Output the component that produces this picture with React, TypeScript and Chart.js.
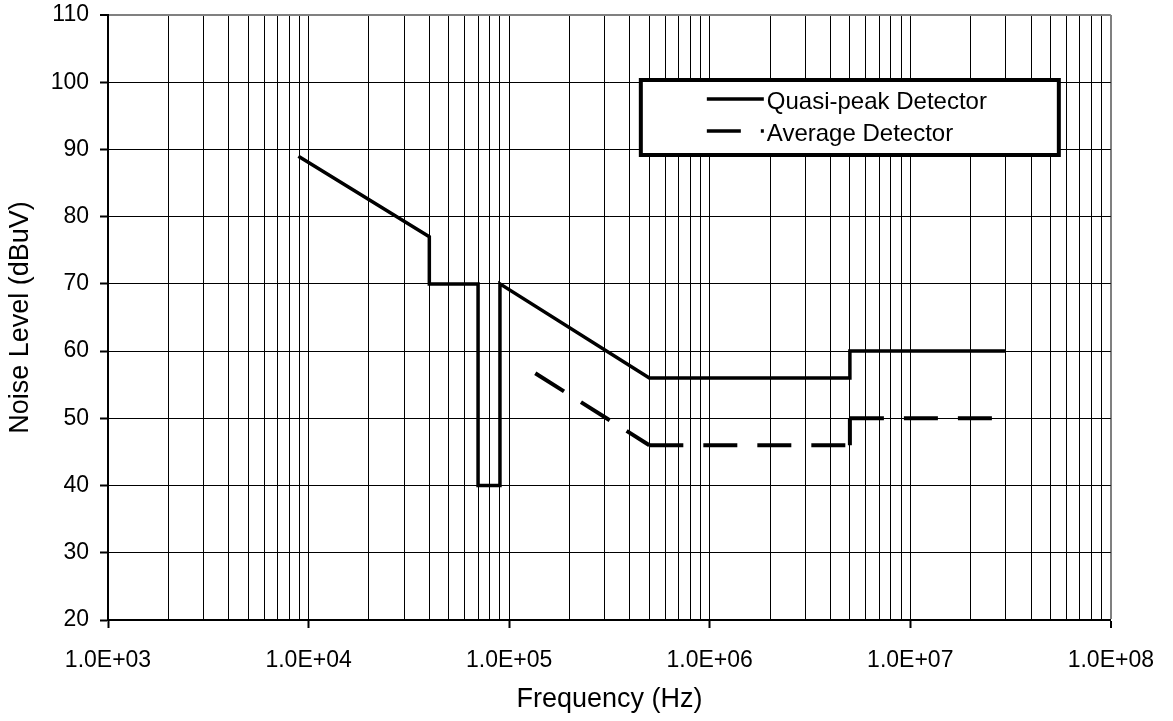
import React, { useEffect, useRef } from "react";
import { Chart, registerables } from "chart.js";

Chart.register(...registerables);

// ---- Data ----
const qpFreq = [8.9e3, 4e4, 4e4, 7e4, 7e4, 9e4, 9e4, 5e5, 5e6, 5e6, 3e7];
const qpLevel = [89, 77, 70, 70, 40, 40, 70, 56, 56, 60, 60];

const avgFreq = [1.35e5, 5e5, 5e6, 5e6, 3e7];
const avgLevel = [56.7, 46, 46, 50, 50];

const seriesLabels = ["Quasi-peak Detector", "Average Detector"];

// ---- Axis ticks ----
const xDecades = [1e3, 1e4, 1e5, 1e6, 1e7, 1e8];
const xTickLabels = ["1.0E+03", "1.0E+04", "1.0E+05", "1.0E+06", "1.0E+07", "1.0E+08"];
const xMinorMultipliers = [2, 3, 4, 5, 6, 7, 8, 9];
const yMin = 20;
const yMax = 110;
const yStep = 10;

const xLabel = "Frequency (Hz)";
const yLabel = "Noise Level (dBuV)";

const FONT = "'Liberation Sans', Arial, Helvetica, sans-serif";
const GRAY = "#808080";
const DASH = [34, 20];
const DASH_PERIOD = 54;

function buildXTicks() {
  const ticks: { value: number; major: boolean }[] = [];
  for (let i = 0; i < xDecades.length; i++) {
    ticks.push({ value: xDecades[i], major: true });
    if (i < xDecades.length - 1) {
      for (const m of xMinorMultipliers) {
        ticks.push({ value: xDecades[i] * m, major: false });
      }
    }
  }
  return ticks;
}

function isDecade(v: number) {
  return xDecades.some((d) => Math.abs(v / d - 1) < 1e-9);
}

const boxLegendPlugin = {
  id: "boxLegend",
  afterDatasetsDraw(chart: any) {
    const { ctx, chartArea } = chart;
    const boxW = 418;
    const boxH = 75;
    const left = chartArea.right - 52 - boxW;
    const top = chartArea.top + 65;
    ctx.save();
    ctx.fillStyle = "#ffffff";
    ctx.fillRect(left, top, boxW, boxH);
    ctx.lineWidth = 4;
    ctx.strokeStyle = "#000000";
    ctx.strokeRect(left, top, boxW, boxH);

    const rows = [
      { y: top + 20, ds: chart.data.datasets[0] },
      { y: top + 52, ds: chart.data.datasets[1] },
    ];
    ctx.font = `24px ${FONT}`;
    ctx.textBaseline = "middle";
    ctx.textAlign = "left";
    for (const r of rows) {
      ctx.save();
      ctx.beginPath();
      ctx.lineWidth = 3.5;
      ctx.strokeStyle = "#000";
      ctx.setLineDash(r.ds.borderDash || []);
      ctx.moveTo(left + 66, r.y - 1);
      ctx.lineTo(left + 123, r.y - 1);
      ctx.stroke();
      ctx.restore();
      ctx.fillStyle = "#000";
      ctx.fillText(r.ds.label, left + 126, r.y + 2);
    }
    ctx.restore();
  },
};

export default function App() {
  const canvasRef = useRef<HTMLCanvasElement | null>(null);

  useEffect(() => {
    const canvas = canvasRef.current;
    if (!canvas) return;
    const chart = new Chart(canvas, {
      type: "line",
      data: {
        datasets: [
          {
            label: seriesLabels[0],
            data: qpFreq.map((f, i) => ({ x: f, y: qpLevel[i] })),
            borderColor: "#000",
            borderWidth: 3.5,
            pointRadius: 0,
            tension: 0,
            fill: false,
          },
          {
            label: seriesLabels[1],
            data: avgFreq.map((f, i) => ({ x: f, y: avgLevel[i] })),
            borderColor: "#000",
            borderWidth: 4,
            borderDash: DASH,
            pointRadius: 0,
            tension: 0,
            fill: false,
            segment: {
              borderDashOffset: (c: any) => (c.p0DataIndex % 2 ? DASH_PERIOD : 0),
            },
          } as any,
        ],
      },
      options: {
        responsive: false,
        devicePixelRatio: 1,
        animation: false,
        layout: { padding: { top: 15, right: 61, left: 0, bottom: 0 } },
        plugins: {
          legend: { display: false },
          tooltip: { enabled: false },
        },
        scales: {
          x: {
            type: "logarithmic",
            min: xDecades[0],
            max: xDecades[xDecades.length - 1],
            afterBuildTicks: (scale: any) => {
              scale.ticks = buildXTicks();
            },
            afterFit: (scale: any) => {
              scale.height = 101;
            },
            ticks: {
              autoSkip: false,
              maxRotation: 0,
              minRotation: 0,
              padding: 19,
              color: "#000",
              font: { family: FONT, size: 23 },
              callback: (value: any) => {
                const v = Number(value);
                const idx = xDecades.findIndex((d) => Math.abs(v / d - 1) < 1e-9);
                return idx >= 0 ? xTickLabels[idx] : "";
              },
            },
            grid: {
              color: (c: any) =>
                c.tick && Math.abs(c.tick.value / xDecades[xDecades.length - 1] - 1) < 1e-9 ? GRAY : "#000",
              lineWidth: (c: any) =>
                c.tick && Math.abs(c.tick.value / xDecades[xDecades.length - 1] - 1) < 1e-9 ? 2 : 1,
              tickColor: (c: any) => (c.tick && isDecade(c.tick.value) ? "#000" : "rgba(0,0,0,0)"),
              tickWidth: 2,
              tickLength: 8,
              drawTicks: true,
            },
            border: { display: true, color: "#000", width: 2 },
            title: {
              display: true,
              text: xLabel,
              color: "#000",
              font: { family: FONT, size: 27 },
              padding: { top: 0, bottom: 5 },
            },
          },
          y: {
            type: "linear",
            min: yMin,
            max: yMax,
            afterFit: (scale: any) => {
              scale.width = 108;
              scale.paddingTop = 0;
              scale.paddingBottom = 0;
            },
            ticks: {
              stepSize: yStep,
              padding: 11,
              color: "#000",
              font: { family: FONT, size: 23 },
            },
            grid: {
              color: (c: any) => (c.tick && c.tick.value === yMax ? GRAY : "#000"),
              lineWidth: (c: any) => (c.tick && c.tick.value === yMax ? 2 : 1),
              tickColor: "#000",
              tickWidth: 2,
              tickLength: 8,
              drawTicks: true,
            },
            border: { display: true, color: "#000", width: 2 },
            title: {
              display: true,
              text: yLabel,
              color: "#000",
              font: { family: FONT, size: 27 },
              padding: { top: 4, bottom: 0 },
            },
          },
        },
      } as any,
      plugins: [boxLegendPlugin],
    });
    return () => chart.destroy();
  }, []);

  return (
    <div style={{ position: "absolute", left: 0, top: 0, width: 1173, height: 721, background: "#fff" }}>
      <canvas ref={canvasRef} width={1173} height={721} style={{ display: "block" }} />
    </div>
  );
}
